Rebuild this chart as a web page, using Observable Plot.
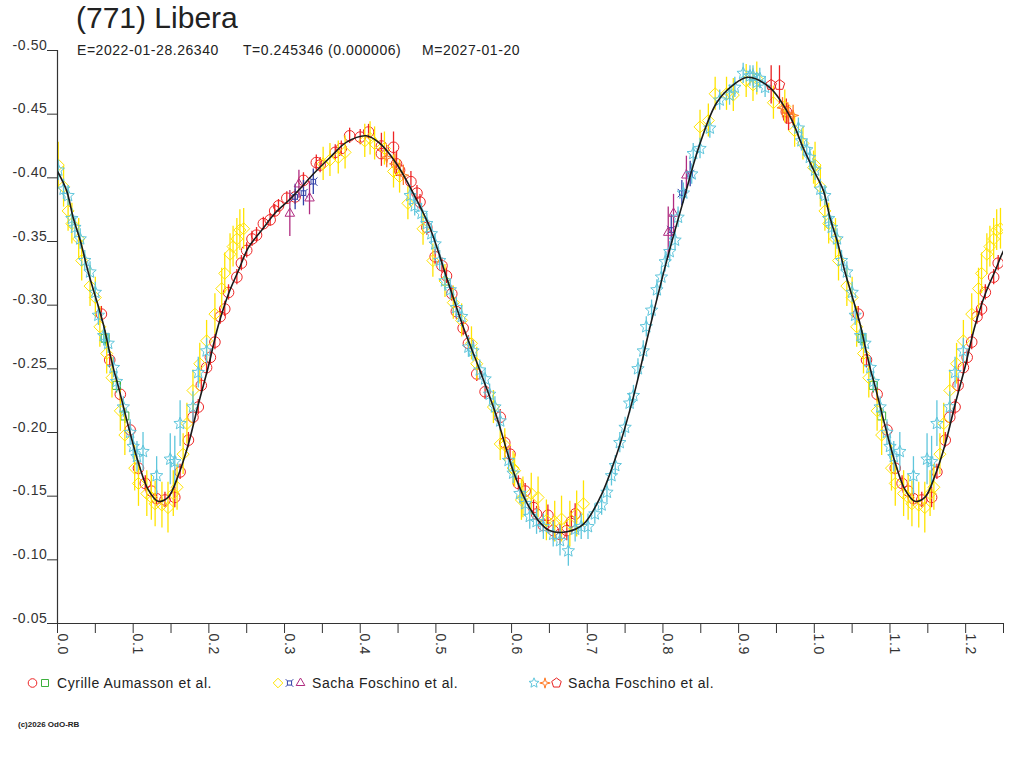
<!DOCTYPE html>
<html><head><meta charset="utf-8">
<script src="https://cdn.jsdelivr.net/npm/d3@7"></script>
<script src="https://cdn.jsdelivr.net/npm/@observablehq/plot@0.6"></script>
<style>
body{margin:0;background:#fff;font-family:Arial,"Liberation Sans",sans-serif;}
#wrap{position:relative;width:1024px;height:768px;overflow:hidden;background:#fff;}
#chart{position:absolute;left:0;top:0;}
.t{position:absolute;white-space:pre;color:#222;line-height:1;}
.s{letter-spacing:0.55px;}
.lg{position:absolute;overflow:visible;}
</style></head><body>
<div id="wrap">
  <div id="chart"></div>
  <div class="t" style="left:76px;top:3px;font-size:30px">(771) Libera</div>
  <div class="t s" style="left:77px;top:43px;font-size:14px">E=2022-01-28.26340</div>
  <div class="t s" style="left:243px;top:43px;font-size:14px">T=0.245346 (0.000006)</div>
  <div class="t s" style="left:422px;top:43px;font-size:14px">M=2027-01-20</div>
  <div class="t s" id="lt1" style="left:57px;top:676px;font-size:14px"></div>
  <div class="t s" id="lt2" style="left:312px;top:676px;font-size:14px"></div>
  <div class="t s" id="lt3" style="left:568px;top:676px;font-size:14px"></div>
  <div class="t" style="left:18px;top:721px;font-size:8px;font-weight:bold">(c)2026 OdO-RB</div>
</div>
<script>
// ---------- data ----------
const groupNames = ["Cyrille Aumasson et al.", "Sacha Foschino et al.", "Sacha Foschino et al."];
const yTicks = [-0.50, -0.45, -0.40, -0.35, -0.30, -0.25, -0.20, -0.15, -0.10, -0.05];
const yTickLabels = ["-0.50","-0.45","-0.40","-0.35","-0.30","-0.25","-0.20","-0.15","-0.10","-0.05"];
const xTicks = [0,0.05,0.1,0.15,0.2,0.25,0.3,0.35,0.4,0.45,0.5,0.55,0.6,0.65,0.7,0.75,0.8,0.85,0.9,0.95,1.0,1.05,1.1,1.15,1.2,1.25];
const xLabelValues = [0,0.1,0.2,0.3,0.4,0.5,0.6,0.7,0.8,0.9,1.0,1.1,1.2];
const xLabels = ["0.0","0.1","0.2","0.3","0.4","0.5","0.6","0.7","0.8","0.9","1.0","1.1","1.2"];

// fitted curve (phase 0..1)
const curvePhase = [0,.012,.021,.030,.041,.052,.061,.067,.074,.080,.094,.107,.120,.133,.146,.160,.173,.186,.199,.212,.226,.239,.252,.270,.287,.305,.323,.338,.360,.382,.408,.426,.448,.470,.492,.514,.536,.558,.580,.602,.620,.635,.650,.673,.695,.717,.739,.761,.783,.805,.827,.849,.871,.893,.912,.941,.968,.985,1.0];
const curveMag = [-.405,-.390,-.368,-.351,-.325,-.303,-.284,-.268,-.250,-.237,-.204,-.176,-.155,-.146,-.149,-.167,-.191,-.222,-.251,-.283,-.309,-.327,-.345,-.359,-.372,-.382,-.393,-.403,-.416,-.428,-.433,-.427,-.411,-.388,-.361,-.322,-.283,-.249,-.213,-.170,-.145,-.131,-.123,-.122,-.128,-.149,-.183,-.228,-.283,-.335,-.382,-.427,-.459,-.473,-.479,-.471,-.448,-.424,-.405];

// observations [phase, mag, err]
const cyrCircles = [[.058,-.293,.006],[.069,-.257,.006],[.083,-.230,.006],[.096,-.202,.006],[.107,-.172,.006],[.116,-.160,.006],[.124,-.154,.006],[.131,-.148,.006],[.142,-.147,.006],[.155,-.149,.008],[.162,-.169,.006],[.173,-.194,.006],[.179,-.212,.006],[.186,-.220,.006],[.190,-.237,.006],[.197,-.251,.006],[.202,-.259,.006],[.208,-.271,.006],[.215,-.291,.006],[.221,-.297,.006],[.226,-.310,.006],[.237,-.322,.006],[.243,-.333,.006],[.250,-.343,.006],[.257,-.352,.006],[.263,-.355,.006],[.272,-.364,.005],[.281,-.367,.005],[.287,-.374,.005],[.292,-.378,.005],[.303,-.384,.005],[.314,-.385,.006],[.325,-.398,.006],[.342,-.412,.006],[.347,-.410,.006],[.367,-.420,.006],[.375,-.423,.006],[.386,-.433,.006],[.400,-.432,.006],[.411,-.436,.006],[.428,-.425,.010],[.444,-.424,.012],[.428,-.419,.010],[.448,-.411,.010],[.452,-.406,.008],[.467,-.397,.008],[.475,-.388,.006],[.479,-.381,.006],[.488,-.361,.006],[.499,-.338,.006],[.508,-.331,.006],[.514,-.323,.006],[.521,-.309,.006],[.527,-.295,.006],[.536,-.282,.006],[.543,-.270,.006],[.554,-.246,.006],[.565,-.232,.006],[.585,-.212,.006],[.591,-.192,.006],[.598,-.183,.006],[.609,-.160,.006],[.618,-.154,.006],[.629,-.141,.006],[.633,-.136,.006],[.642,-.127,.006],[.648,-.135,.008],[.655,-.123,.008],[.664,-.120,.008],[.673,-.123,.008],[.679,-.130,.008],[.684,-.136,.008],[.963,-.452,.010],[.966,-.447,.010]];
const cyrSquares = [[.063,-.274,.006],[.078,-.237,.006],[.089,-.213,.006]];

const sacDiamonds = [[.001,-.410,.018],[.008,-.393,.016],[.014,-.374,.016],[.019,-.364,.016],[.028,-.352,.016],[.032,-.335,.016],[.043,-.315,.016],[.050,-.306,.016],[.056,-.283,.016],[.065,-.262,.016],[.072,-.243,.016],[.083,-.217,.016],[.089,-.198,.016],[.102,-.172,.018],[.107,-.160,.018],[.118,-.152,.018],[.124,-.149,.018],[.129,-.144,.018],[.138,-.143,.018],[.146,-.141,.020],[.153,-.152,.018],[.158,-.157,.018],[.166,-.183,.016],[.171,-.207,.016],[.179,-.233,.016],[.188,-.254,.016],[.197,-.272,.016],[.208,-.293,.016],[.217,-.313,.016],[.221,-.325,.016],[.228,-.340,.016],[.232,-.346,.016],[.237,-.352,.016],[.241,-.359,.016],[.246,-.360,.016],[.351,-.411,.013],[.360,-.414,.013],[.371,-.416,.013],[.380,-.420,.013],[.406,-.429,.013],[.413,-.431,.013],[.419,-.427,.013],[.432,-.423,.013],[.444,-.405,.013],[.452,-.401,.013],[.463,-.380,.013],[.483,-.360,.013],[.496,-.335,.013],[.512,-.319,.013],[.523,-.302,.013],[.534,-.288,.013],[.547,-.270,.013],[.554,-.254,.013],[.576,-.220,.013],[.585,-.191,.013],[.591,-.190,.013],[.602,-.172,.013],[.604,-.170,.013],[.613,-.147,.016],[.615,-.149,.016],[.626,-.152,.016],[.635,-.149,.016],[.646,-.131,.016],[.657,-.130,.016],[.666,-.132,.018],[.677,-.128,.018],[.686,-.136,.018],[.695,-.144,.018],[.849,-.440,.013],[.860,-.445,.013],[.869,-.466,.013],[.884,-.466,.013],[.893,-.465,.013],[.910,-.476,.013],[.919,-.473,.013],[.924,-.478,.013],[.946,-.459,.013],[.961,-.456,.013],[.974,-.437,.013],[.985,-.427,.013],[.999,-.408,.013]];
const sacCrosses = [[.314,-.385,.010],[.325,-.388,.010],[.338,-.397,.010],[.811,-.359,.012],[.825,-.388,.010],[.836,-.403,.010]];
const sacTriangles = [[.307,-.372,.018],[.319,-.395,.011],[.333,-.384,.013],[.807,-.357,.020],[.814,-.372,.015],[.831,-.402,.015]];

const sac2Stars = [[.001,-.406,.008],[.008,-.391,.008],[.014,-.386,.008],[.019,-.368,.008],[.023,-.361,.008],[.030,-.352,.008],[.036,-.335,.008],[.043,-.326,.008],[.050,-.310,.008],[.054,-.292,.008],[.061,-.276,.008],[.067,-.270,.008],[.074,-.251,.008],[.078,-.240,.008],[.087,-.220,.008],[.096,-.200,.010],[.100,-.189,.010],[.105,-.181,.012],[.113,-.185,.015],[.131,-.166,.015],[.149,-.179,.020],[.155,-.177,.020],[.162,-.207,.018],[.179,-.220,.012],[.186,-.247,.012],[.197,-.264,.010],[.466,-.386,.008],[.472,-.378,.008],[.481,-.372,.008],[.488,-.364,.008],[.494,-.356,.008],[.499,-.348,.008],[.505,-.335,.008],[.512,-.319,.008],[.519,-.312,.008],[.527,-.298,.008],[.534,-.291,.008],[.543,-.267,.008],[.549,-.264,.008],[.558,-.249,.008],[.565,-.242,.008],[.571,-.230,.008],[.578,-.220,.008],[.585,-.209,.008],[.596,-.178,.008],[.602,-.168,.008],[.611,-.152,.008],[.618,-.144,.010],[.624,-.134,.010],[.633,-.130,.010],[.642,-.126,.010],[.655,-.120,.010],[.664,-.115,.012],[.675,-.107,.012],[.684,-.124,.010],[.692,-.126,.010],[.701,-.126,.010],[.710,-.136,.008],[.719,-.143,.008],[.726,-.153,.008],[.732,-.166,.008],[.737,-.174,.008],[.743,-.192,.008],[.750,-.204,.008],[.756,-.223,.008],[.761,-.229,.008],[.767,-.250,.008],[.774,-.264,.008],[.778,-.283,.008],[.785,-.296,.008],[.792,-.312,.008],[.798,-.322,.008],[.803,-.334,.008],[.809,-.342,.008],[.816,-.351,.008],[.820,-.369,.008],[.827,-.388,.008],[.838,-.403,.008],[.840,-.419,.008],[.849,-.423,.008],[.862,-.439,.008],[.875,-.461,.008],[.888,-.465,.008],[.895,-.471,.008],[.906,-.482,.008],[.915,-.480,.008],[.919,-.480,.008],[.924,-.475,.008],[.928,-.478,.008],[.935,-.471,.008],[.979,-.439,.008],[.983,-.429,.008],[.990,-.422,.008],[.994,-.416,.008]];
const sac2Sparkles = [[.435,-.416,.008],[.446,-.411,.008],[.457,-.402,.008],[.958,-.455,.008],[.965,-.451,.008],[.972,-.449,.008]];
const sac2Pentagons = [[.943,-.473,.015],[.954,-.473,.015]];

// ---------- helpers ----------
const extend = arr => arr.concat(arr.filter(d => d[0] < 0.25).map(d => [d[0] + 1, d[1], d[2]]));
const curve = curvePhase.map((p, i) => ({p, m: curveMag[i]}));
const curveAll = curve.concat(curve.filter(d => d.p > 0 && d.p <= 0.27).map(d => ({p: d.p + 1, m: d.m})));

function poly(ctx, pts){ ctx.moveTo(pts[0][0], pts[0][1]); for (let i = 1; i < pts.length; i++) ctx.lineTo(pts[i][0], pts[i][1]); ctx.closePath(); }
const R = size => Math.sqrt(size / Math.PI);
const sym = {
  square: {draw(ctx, s){ const r = R(s); poly(ctx, [[-r,-r],[r,-r],[r,r],[-r,r]]); }},
  diamond: {draw(ctx, s){ const r = R(s); poly(ctx, [[0,-r],[r,0],[0,r],[-r,0]]); }},
  triangle: {draw(ctx, s){ const r = R(s); poly(ctx, [[0,-r],[r*0.866,r*0.5],[-r*0.866,r*0.5]]); }},
  star: {draw(ctx, s){ const r = R(s), pts = []; for (let i = 0; i < 10; i++){ const a = -Math.PI/2 + i*Math.PI/5, rr = i % 2 ? r*0.45 : r; pts.push([rr*Math.cos(a), rr*Math.sin(a)]); } poly(ctx, pts); }},
  sparkle: {draw(ctx, s){ const r = R(s), pts = []; for (let i = 0; i < 8; i++){ const a = -Math.PI/2 + i*Math.PI/4, rr = i % 2 ? r*0.3 : r; pts.push([rr*Math.cos(a), rr*Math.sin(a)]); } poly(ctx, pts); }},
  pentagon: {draw(ctx, s){ const r = R(s), pts = []; for (let i = 0; i < 5; i++){ const a = -Math.PI/2 + i*2*Math.PI/5; pts.push([r*Math.cos(a), r*Math.sin(a)]); } poly(ctx, pts); }},
  currency: {draw(ctx, s){ const r = R(s), a = r*0.55; poly(ctx, [[-a,-a],[a,-a],[a,a],[-a,a]]);
    [[-1,-1],[1,-1],[1,1],[-1,1]].forEach(([sx,sy]) => { ctx.moveTo(sx*a, sy*a); ctx.lineTo(sx*r, sy*r); }); }}
};

const series = [
  {data: cyrCircles, symbol: "circle", r: 5.3, color: "#ee2424"},
  {data: cyrSquares, symbol: sym.square, r: 4, color: "#3cb03c"},
  {data: sacDiamonds, symbol: sym.diamond, r: 6, color: "#ffe400"},
  {data: sacCrosses, symbol: sym.currency, r: 4.2, color: "#3040a8"},
  {data: sacTriangles, symbol: sym.triangle, r: 5.5, color: "#b02c80"},
  {data: sac2Stars, symbol: sym.star, r: 6.5, color: "#5fc6dc"},
  {data: sac2Sparkles, symbol: sym.sparkle, r: 5.5, color: "#ff7a24"},
  {data: sac2Pentagons, symbol: sym.pentagon, r: 5.5, color: "#e82020"}
];

const marks = [];
for (const s of series) {
  const d = extend(s.data);
  marks.push(Plot.ruleX(d, {x: v => v[0], y1: v => v[1] - v[2], y2: v => v[1] + v[2], stroke: s.color, strokeWidth: 1.3, clip: true}));
  marks.push(Plot.dot(d, {x: v => v[0], y: v => v[1], symbol: s.symbol, r: s.r, stroke: s.color, strokeWidth: 1, fill: "none", clip: true}));
}
marks.push(Plot.line(curveAll, {x: "p", y: "m", stroke: "#1a1a1a", strokeWidth: 1.6, curve: "catmull-rom", clip: true}));

const chart = Plot.plot({
  width: 1024, height: 665,
  marginLeft: 57, marginRight: 21, marginTop: 50, marginBottom: 42,
  style: {background: "transparent", fontFamily: "Arial, 'Liberation Sans', sans-serif", fontSize: "14px", color: "#333", letterSpacing: "0.6px"},
  x: {domain: [0, 1.25], axis: null},
  y: {domain: [-0.05, -0.5], axis: null},
  marks: [
    ...marks,
    Plot.ruleX([0], {stroke: "#333", strokeWidth: 1.2}),
    Plot.ruleY([-0.05], {stroke: "#333", strokeWidth: 1.2}),
    Plot.axisY({ticks: yTicks, tickSize: 10, tickFormat: () => "", label: null, stroke: "#333"}),
    Plot.axisX({ticks: xTicks, tickSize: 10, tickFormat: () => "", label: null, stroke: "#333"}),
    Plot.text(yTicks, {frameAnchor: "left", y: d => d, text: (d, i) => yTickLabels[i], textAnchor: "end", lineAnchor: "bottom", dx: -10, dy: -1, fill: "#333", fontSize: 14}),
    Plot.text(xLabelValues, {x: d => d, frameAnchor: "bottom", text: (d, i) => xLabels[i], rotate: 90, textAnchor: "start", lineAnchor: "bottom", dy: 10, dx: 0, fill: "#333", fontSize: 14})
  ]
});
document.getElementById("chart").appendChild(chart);

// ---------- legend ----------
document.getElementById("lt1").textContent = groupNames[0];
document.getElementById("lt2").textContent = groupNames[1];
document.getElementById("lt3").textContent = groupNames[2];
const legendItems = [
  [{symbol: d3.symbolCircle, r: 4.3, color: "#ee2424", cx: 32.5}, {symbol: sym.square, r: 3.5, color: "#3cb03c", cx: 45}],
  [{symbol: sym.diamond, r: 4.8, color: "#ffe400", cx: 278}, {symbol: sym.currency, r: 3.8, color: "#3040a8", cx: 289.5}, {symbol: sym.triangle, r: 5, color: "#b02c80", cx: 300.5}],
  [{symbol: sym.star, r: 5.2, color: "#5fc6dc", cx: 534}, {symbol: sym.sparkle, r: 5.2, color: "#ff7a24", cx: 545}, {symbol: sym.pentagon, r: 5, color: "#e82020", cx: 556.5}]
];
const lsvg = d3.select("#wrap").append("svg").attr("class", "lg").attr("width", 1024).attr("height", 30)
  .style("left", "0px").style("top", "668px");
for (const grp of legendItems) for (const it of grp) {
  lsvg.append("path").attr("d", d3.symbol(it.symbol, Math.PI * it.r * it.r)())
    .attr("transform", `translate(${it.cx},15)`).attr("fill", "none").attr("stroke", it.color).attr("stroke-width", 1);
}
</script>
</body></html>
